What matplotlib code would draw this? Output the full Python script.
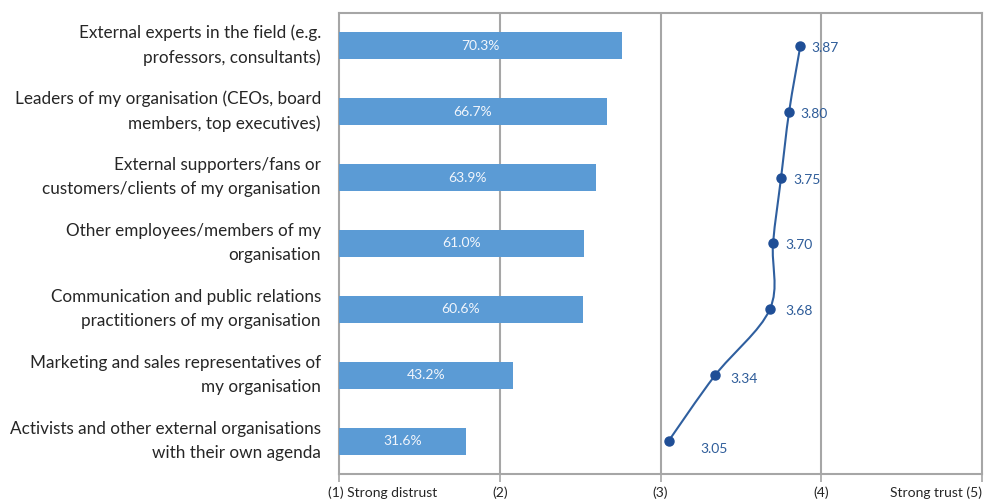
import matplotlib
matplotlib.use("Agg")
import matplotlib.pyplot as plt
from matplotlib.path import Path
from matplotlib.patches import PathPatch
import matplotlib.transforms as mtrans
import numpy as np

plt.rcParams['font.family'] = ['Lato', 'DejaVu Sans']

categories = [
    "External experts in the field (e.g.\nprofessors, consultants)",
    "Leaders of my organisation (CEOs, board\nmembers, top executives)",
    "External supporters/fans or\ncustomers/clients of my organisation",
    "Other employees/members of my\norganisation",
    "Communication and public relations\npractitioners of my organisation",
    "Marketing and sales representatives of\nmy organisation",
    "Activists and other external organisations\nwith their own agenda",
]
percent_trust = [70.3, 66.7, 63.9, 61.0, 60.6, 43.2, 31.6]
mean_trust = [3.87, 3.80, 3.75, 3.70, 3.68, 3.34, 3.05]
scale_ticks = [1, 2, 3, 4, 5]
scale_labels = ["(1) Strong distrust", "(2)", "(3)", "(4)", "Strong trust (5)"]

BAR_COLOR = "#5B9BD5"
LINE_COLOR = "#2F5F9F"
MARK_COLOR = "#1F4E96"
LABEL_BLUE = "#2E5C99"
GRID = "#A6A6A6"
TEXT = "#262626"

fig = plt.figure(figsize=(9.9, 4.99), dpi=100)
ax = fig.add_axes([339/990, 1-474/499, (982-339)/990, (474-13)/499])
n = len(categories)
ypos = np.arange(n)

ax.set_xlim(1, 5)
ax.set_ylim(n - 0.5, -0.5)
for x in scale_ticks[1:-1]:
    ax.axvline(x, color=GRID, lw=1.5, zorder=0)
for s in ax.spines.values():
    s.set_color(GRID)
    s.set_linewidth(1.5)
ax.set_xticks(scale_ticks)
ax.set_xticklabels(scale_labels, fontsize=10, color=TEXT)
ax.tick_params(axis='x', length=6, width=1.2, color=GRID, pad=3)
ax.set_yticks(ypos)
ax.set_yticklabels(categories, fontsize=12.3, color=TEXT, linespacing=1.62)
ax.tick_params(axis='y', length=0, pad=13)
for lab in ax.get_yticklabels():
    lab.set_transform(lab.get_transform() + mtrans.ScaledTranslation(0, 6/100, fig.dpi_scale_trans))
tl = ax.get_xticklabels()
tl[0].set_ha('left')
tl[0].set_transform(tl[0].get_transform() + mtrans.ScaledTranslation(-11/100, 0, fig.dpi_scale_trans))
tl[-1].set_ha('right')

# smooth line (Bezier through data points)
pts = np.column_stack([mean_trust, ypos]).astype(float)
ext = np.vstack([pts[0], pts, pts[-1]])
verts = [tuple(pts[0])]
codes = [Path.MOVETO]
for i in range(len(pts) - 1):
    p0, p1, p2, p3 = ext[i], ext[i + 1], ext[i + 2], ext[i + 3]
    c1 = p1 + (p2 - p0) / 6
    c2 = p2 - (p3 - p1) / 6
    verts += [tuple(c1), tuple(c2), tuple(p2)]
    codes += [Path.CURVE4] * 3
ax.add_patch(PathPatch(Path(verts, codes), fill=False, edgecolor=LINE_COLOR, lw=1.5, zorder=3))
ax.plot(mean_trust, ypos, 'o', color=MARK_COLOR, ms=6.5, zorder=4)
offsets = [(11, -2), (11, -2), (12, -2), (12, -2), (16, -2), (15, -4), (32, -8)]
for v, y, (dx, dy) in zip(mean_trust, ypos, offsets):
    ax.annotate(f"{v:.2f}", (v, y), xytext=(dx * 0.72, dy * 0.72), textcoords='offset points',
                ha='left', va='center', fontsize=10, color=LABEL_BLUE, zorder=5)

# bars on a twin axis (percent scale)
axb = ax.twiny()
axb.set_xlim(0, 160)
axb.set_ylim(n - 0.5, -0.5)
axb.barh(ypos, percent_trust, height=0.41, color=BAR_COLOR, zorder=2)
for p, y in zip(percent_trust, ypos):
    axb.text(p / 2, y, f"{p:.1f}%", ha='center', va='center', fontsize=10, color="#F2F6FC")
axb.set_xticks([])
axb.patch.set_visible(False)
for s in axb.spines.values():
    s.set_visible(False)

fig.savefig("out.png", dpi=100)
